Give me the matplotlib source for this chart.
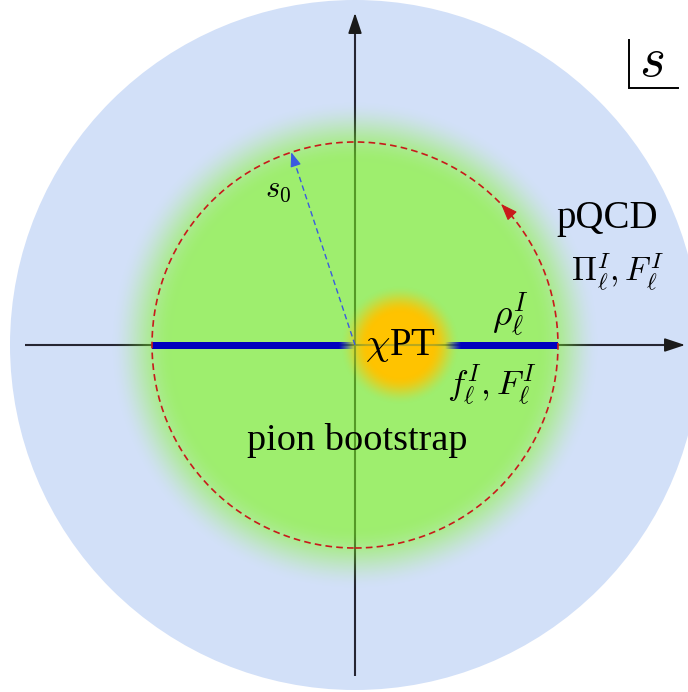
import numpy as np
import matplotlib.pyplot as plt
from matplotlib.patches import Circle
from matplotlib.collections import LineCollection

plt.rcParams['font.family'] = ['Liberation Serif', 'DejaVu Serif']
plt.rcParams['mathtext.fontset'] = 'cm'

# geometry of the complex s-plane sketch (pixel-like units, origin at s = 0)
R_PLANE = 345          # outer pQCD disk
R_CONTOUR = 203        # |s| = s0 contour
GREEN_FADE = (183, 245)  # bootstrap region fades out between these radii
CHPT_CENTER = (45, 0)
CHPT_FADE = (32, 60)
CUT_LEFT = (-203, 0)
CUT_RIGHT = (90, 203)
CUT_FADE = 16
S0_ANGLE = 108.3       # degrees
CONTOUR_ARROW_ANGLE = 44
AXIS_X = (-330, 330)
AXIS_Y = (-331, 332)

labels = [
    (r'$s_0$', (-77, 156), 22),
    (r'$\chi$PT', (46, 0), 28),
    (r'$\rho_\ell^I$', (155, 30), 27),
    (r'$f_\ell^I, F_\ell^I$', (137, -40), 25),
    ('pion bootstrap', (2, -95), 27.5),
    ('pQCD', (252, 127), 28),
    (r'$\Pi_\ell^I, F_\ell^I$', (262, 73), 24),
]

BLUE = np.array([210, 224, 248]) / 255
GREEN = np.array([158, 238, 110]) / 255
ORANGE = np.array([255, 195, 0]) / 255
CUT_BLUE = np.array([0, 0, 190]) / 255


def smooth(r, inner, outer):
    t = np.clip((outer - r) / (outer - inner), 0, 1)
    return t * t * (3 - 2 * t)


fig = plt.figure(figsize=(6.88, 6.92), dpi=100)
ax = fig.add_axes([0, 0, 1, 1])
x0, x1, y0, y1 = -355, 333, -347, 345
ax.set_xlim(x0, x1)
ax.set_ylim(y0, y1)
ax.axis('off')

ax.add_patch(Circle((0, 0), R_PLANE, color=BLUE, lw=0, zorder=1))

xx, yy = np.meshgrid(np.arange(x0, x1) + 0.5, np.arange(y0, y1) + 0.5)
rg = np.hypot(xx, yy)
ro = np.hypot(xx - CHPT_CENTER[0], yy - CHPT_CENTER[1])

green = np.zeros(rg.shape + (4,))
green[..., :3] = GREEN
green[..., 3] = smooth(rg, *GREEN_FADE)
ax.imshow(green, extent=(x0, x1, y0, y1), origin='lower', interpolation='bilinear', zorder=2)

orange = np.zeros(ro.shape + (4,))
orange[..., :3] = ORANGE
orange[..., 3] = smooth(ro, *CHPT_FADE)
ax.imshow(orange, extent=(x0, x1, y0, y1), origin='lower', interpolation='bilinear', zorder=3)

# axes: darkened according to the region they run through
dark = np.array([0.15, 0.15, 0.2])
dgreen = np.array([0.33, 0.6, 0.15])
olive = np.array([0.72, 0.66, 0.12])


def axis_line(px, py):
    pts = np.column_stack([px, py])
    segs = np.stack([pts[:-1], pts[1:]], axis=1)
    mx = (px[:-1] + px[1:]) / 2
    my = (py[:-1] + py[1:]) / 2
    wg = smooth(np.hypot(mx, my), *GREEN_FADE)[:, None]
    wo = smooth(np.hypot(mx - CHPT_CENTER[0], my - CHPT_CENTER[1]), *CHPT_FADE)[:, None]
    col = dark * (1 - wg) + dgreen * wg
    col = col * (1 - wo) + olive * wo
    ax.add_collection(LineCollection(segs, colors=col, linewidths=1.5,
                                     capstyle='butt', zorder=4))


t = np.linspace(AXIS_X[0], AXIS_X[1] - 8, 700)
axis_line(t, np.zeros_like(t))
t = np.linspace(AXIS_Y[0], AXIS_Y[1] - 8, 700)
axis_line(np.zeros_like(t), t)

head = dict(arrowstyle='-|>,head_length=0.9,head_width=0.3', color='#1a1a1a',
            lw=1.2, mutation_scale=14, shrinkA=0, shrinkB=0)
ax.annotate('', xy=(AXIS_X[1], 0), xytext=(AXIS_X[1] - 10, 0), arrowprops=head, zorder=4)
ax.annotate('', xy=(0, AXIS_Y[1]), xytext=(0, AXIS_Y[1] - 10), arrowprops=head, zorder=4)

# branch cuts: solid bar plus a short soft end towards the chiral region
half_w = 3.5
ax.fill_between([CUT_LEFT[0], CUT_LEFT[1] - CUT_FADE], -half_w, half_w,
                color=CUT_BLUE, lw=0, zorder=5)
ax.fill_between([CUT_RIGHT[0] + CUT_FADE, CUT_RIGHT[1]], -half_w, half_w,
                color=CUT_BLUE, lw=0, zorder=5)
ramp = np.zeros((1, 64, 4))
ramp[..., :3] = CUT_BLUE
ramp[0, :, 3] = np.linspace(1, 0, 64)
ax.imshow(ramp, extent=(CUT_LEFT[1] - CUT_FADE, CUT_LEFT[1], -half_w, half_w),
          interpolation='bilinear', aspect='auto', zorder=5)
ax.imshow(ramp[:, ::-1], extent=(CUT_RIGHT[0], CUT_RIGHT[0] + CUT_FADE, -half_w, half_w),
          interpolation='bilinear', aspect='auto', zorder=5)

# contour |s| = s0
ax.add_patch(Circle((0, 0), R_CONTOUR, fill=False, ec='#c81a1a', lw=1.2,
                    ls=(0, (4, 2.5)), zorder=6))
th = np.radians(CONTOUR_ARROW_ANGLE)
tip = R_CONTOUR * np.array([np.cos(th), np.sin(th)])
back = R_CONTOUR * np.array([np.cos(th - 0.03), np.sin(th - 0.03)])
ax.annotate('', xy=tip, xytext=back,
            arrowprops=dict(arrowstyle='-|>,head_length=0.8,head_width=0.3', color='#c81a1a',
                            lw=0.8, mutation_scale=13, shrinkA=0, shrinkB=0), zorder=6)

# radius s0
th = np.radians(S0_ANGLE)
tip = R_CONTOUR * np.array([np.cos(th), np.sin(th)])
ax.plot([0, tip[0] * 0.97], [0, tip[1] * 0.97], ls=(0, (4, 2.5)), color='#3a5ae0', lw=1.0, zorder=6)
ax.annotate('', xy=tip, xytext=tip * 0.95,
            arrowprops=dict(arrowstyle='-|>,head_length=0.8,head_width=0.3', color='#3a5ae0',
                            lw=0.8, mutation_scale=11, shrinkA=0, shrinkB=0), zorder=6)

for txt, (x, y), fs in labels:
    ax.text(x, y, txt, fontsize=fs, ha='center', va='center', color='black', zorder=7)

# variable box in the top-right corner
ax.plot([274, 274, 323], [305, 257, 257], color='black', lw=1.4, solid_joinstyle='miter', zorder=7)
ax.text(297, 283, r'$s$', fontsize=40, ha='center', va='center', zorder=7)

fig.savefig('out.png', dpi=100)
